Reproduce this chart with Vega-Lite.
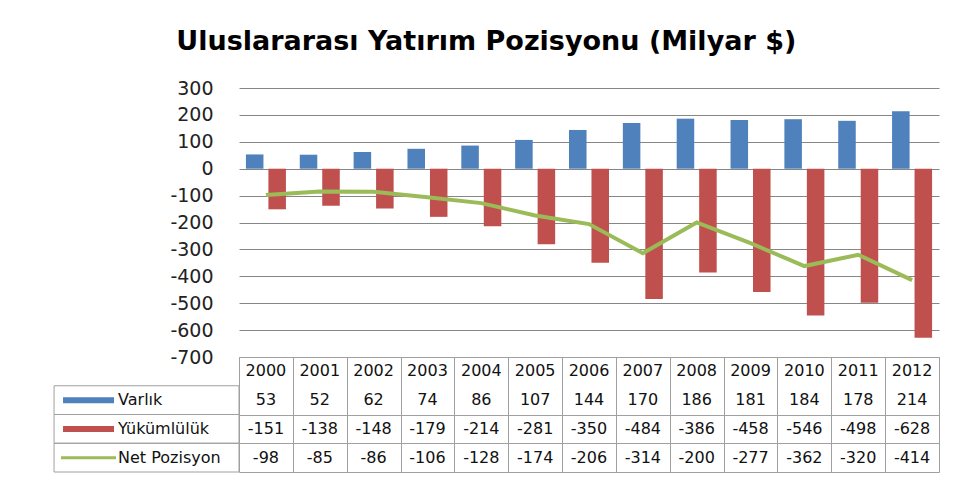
{
  "$schema": "https://vega.github.io/schema/vega-lite/v6.json",
  "background": "white",
  "padding": {"left": 53, "top": 28, "right": 5, "bottom": 5},
  "title": {"text": "Uluslararası Yatırım Pozisyonu (Milyar $)", "font": "DejaVu Sans", "fontSize": 27, "fontWeight": "bold", "color": "#000000", "anchor": "middle", "offset": 23, "dx": -10},
  "datasets": {
    "d": [
      {"year": 2000, "series": "Varlık", "value": 53},
      {"year": 2001, "series": "Varlık", "value": 52},
      {"year": 2002, "series": "Varlık", "value": 62},
      {"year": 2003, "series": "Varlık", "value": 74},
      {"year": 2004, "series": "Varlık", "value": 86},
      {"year": 2005, "series": "Varlık", "value": 107},
      {"year": 2006, "series": "Varlık", "value": 144},
      {"year": 2007, "series": "Varlık", "value": 170},
      {"year": 2008, "series": "Varlık", "value": 186},
      {"year": 2009, "series": "Varlık", "value": 181},
      {"year": 2010, "series": "Varlık", "value": 184},
      {"year": 2011, "series": "Varlık", "value": 178},
      {"year": 2012, "series": "Varlık", "value": 214},
      {"year": 2000, "series": "Yükümlülük", "value": -151},
      {"year": 2001, "series": "Yükümlülük", "value": -138},
      {"year": 2002, "series": "Yükümlülük", "value": -148},
      {"year": 2003, "series": "Yükümlülük", "value": -179},
      {"year": 2004, "series": "Yükümlülük", "value": -214},
      {"year": 2005, "series": "Yükümlülük", "value": -281},
      {"year": 2006, "series": "Yükümlülük", "value": -350},
      {"year": 2007, "series": "Yükümlülük", "value": -484},
      {"year": 2008, "series": "Yükümlülük", "value": -386},
      {"year": 2009, "series": "Yükümlülük", "value": -458},
      {"year": 2010, "series": "Yükümlülük", "value": -546},
      {"year": 2011, "series": "Yükümlülük", "value": -498},
      {"year": 2012, "series": "Yükümlülük", "value": -628},
      {"year": 2000, "series": "Net Pozisyon", "value": -98},
      {"year": 2001, "series": "Net Pozisyon", "value": -85},
      {"year": 2002, "series": "Net Pozisyon", "value": -86},
      {"year": 2003, "series": "Net Pozisyon", "value": -106},
      {"year": 2004, "series": "Net Pozisyon", "value": -128},
      {"year": 2005, "series": "Net Pozisyon", "value": -174},
      {"year": 2006, "series": "Net Pozisyon", "value": -206},
      {"year": 2007, "series": "Net Pozisyon", "value": -314},
      {"year": 2008, "series": "Net Pozisyon", "value": -200},
      {"year": 2009, "series": "Net Pozisyon", "value": -277},
      {"year": 2010, "series": "Net Pozisyon", "value": -362},
      {"year": 2011, "series": "Net Pozisyon", "value": -320},
      {"year": 2012, "series": "Net Pozisyon", "value": -414}
    ]
  },
  "data": {"name": "d"},
  "spacing": 0,
  "bounds": "flush",
  "resolve": {"scale": {"x": "independent", "y": "independent"}},
  "vconcat": [
    {
      "width": 700,
      "height": 269,
      "encoding": {
        "x": {"field": "year", "type": "nominal", "scale": {"paddingInner": 0.257, "paddingOuter": 0.1285}, "axis": null},
        "y": {
          "field": "value", "type": "quantitative",
          "scale": {"domain": [-700, 300], "nice": false, "zero": false},
          "axis": {
            "values": [300, 200, 100, 0, -100, -200, -300, -400, -500, -600, -700],
            "labelExpr": "'' + datum.value",
            "labelOverlap": false,
            "labelSeparation": 0,
            "labelBound": false,
            "grid": true, "gridColor": "#868686", "gridWidth": 1,
            "domain": false, "ticks": false,
            "labelPadding": 26, "labelFont": "DejaVu Sans", "labelFontSize": 19, "labelColor": "#222222",
            "title": null, "minExtent": 185
          }
        }
      },
      "layer": [
        {
          "transform": [{"filter": "datum.series != 'Net Pozisyon'"}],
          "mark": {"type": "bar"},
          "encoding": {
            "xOffset": {"field": "series", "type": "nominal", "sort": ["Varlık", "Yükümlülük"], "scale": {"paddingInner": 0.22, "paddingOuter": 0}},
            "color": {
              "field": "series", "type": "nominal",
              "scale": {"domain": ["Varlık", "Yükümlülük", "Net Pozisyon"], "range": ["#4F81BD", "#C0504D", "#9BBB59"]},
              "legend": null
            }
          }
        },
        {
          "transform": [{"filter": "datum.series == 'Net Pozisyon'"}],
          "mark": {"type": "line", "strokeWidth": 4, "color": "#9BBB59"}
        }
      ]
    },
    {
      "width": 700,
      "height": 115,
      "layer": [
        {
          "mark": {"type": "text", "font": "DejaVu Sans", "fontSize": 16, "color": "#111111"},
          "encoding": {
            "x": {
              "field": "year", "type": "quantitative",
              "scale": {"domain": [1999.5, 2012.5], "nice": false, "zero": false},
              "axis": {
                "values": [1999.5, 2000.5, 2001.5, 2002.5, 2003.5, 2004.5, 2005.5, 2006.5, 2007.5, 2008.5, 2009.5, 2010.5, 2011.5, 2012.5],
                "grid": true, "gridColor": "#a0a0a0", "labels": false, "ticks": false, "domain": false, "title": null
              }
            },
            "y": {
              "field": "series", "type": "nominal",
              "scale": {"domain": ["hdr", "Varlık", "Yükümlülük", "Net Pozisyon"], "paddingInner": 0, "paddingOuter": 0},
              "axis": {
                "grid": true, "tickBand": "extent", "gridColor": "#a0a0a0",
                "gridOpacity": {"condition": {"test": "datum.value === 'hdr'", "value": 0}, "value": 1},
                "labels": false, "ticks": false, "domain": false, "title": null
              }
            },
            "text": {"field": "value", "type": "nominal"}
          }
        },
        {
          "transform": [{"filter": "datum.series == 'Varlık'"}],
          "mark": {"type": "text", "font": "DejaVu Sans", "fontSize": 16, "color": "#111111"},
          "encoding": {
            "x": {"field": "year", "type": "quantitative"},
            "y": {"datum": "hdr"},
            "text": {"field": "year", "type": "nominal"}
          }
        },
        {
          "transform": [{"filter": "datum.year == 2000"}],
          "mark": {"type": "bar", "fill": "transparent", "stroke": "#a0a0a0", "strokeWidth": 1},
          "encoding": {
            "x": {"datum": 1996.065, "type": "quantitative"},
            "x2": {"datum": 1999.5},
            "y": {"field": "series", "type": "nominal"}
          }
        },
        {
          "transform": [{"filter": "datum.year == 2000 && datum.series != 'Net Pozisyon'"}],
          "mark": {"type": "bar", "height": 6},
          "encoding": {
            "x": {"datum": 1996.232, "type": "quantitative"},
            "x2": {"datum": 1997.179},
            "y": {"field": "series", "type": "nominal"},
            "color": {"field": "series", "type": "nominal", "legend": null}
          }
        },
        {
          "transform": [{"filter": "datum.year == 2000 && datum.series == 'Net Pozisyon'"}],
          "mark": {"type": "rule", "strokeWidth": 3, "color": "#9BBB59"},
          "encoding": {
            "x": {"datum": 1996.195, "type": "quantitative"},
            "x2": {"datum": 1997.216},
            "y": {"field": "series", "type": "nominal"}
          }
        },
        {
          "transform": [{"filter": "datum.year == 2000"}],
          "mark": {"type": "text", "font": "DejaVu Sans", "fontSize": 16, "color": "#111111", "align": "left"},
          "encoding": {
            "x": {"datum": 1997.254, "type": "quantitative"},
            "y": {"field": "series", "type": "nominal"},
            "text": {"field": "series", "type": "nominal"}
          }
        }
      ]
    }
  ],
  "config": {"view": {"stroke": null}}
}
